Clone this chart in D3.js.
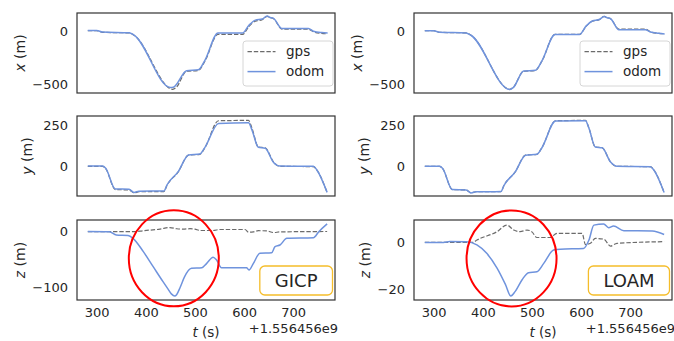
<!DOCTYPE html>
<html>
<head>
<meta charset="utf-8">
<script src="https://cdn.jsdelivr.net/npm/d3@7"></script>
<style>
  body { margin: 0; background: #fff; }
  svg { display: block; }
  text { font-family: "DejaVu Sans", sans-serif; fill: #262626; }
</style>
</head>
<body>
<svg id="chart" width="674" height="341"></svg>
<script>
// time axis (offset +1.556456e9)
const timeTicks = [300, 400, 500, 600, 700];

// gps reference, shared by both methods
const gpsX = [[282,5],[300,5],[312,-10],[366,-16],[376,-38],[455,-548],[462,-530],[483,-378],[507,-370],[520,-285],[547,-29],[597,-29],[610,45],[623,95],[637,108],[647,140],[653,128],[660,118],[677,20],[731,20],[741,-5],[758,-20],[770,-25]];
const gpsY = [[282,2],[312,2],[318,-10],[338,-140],[366,-142],[376,-160],[386,-153],[437,-152],[443,-115],[466,-32],[487,70],[510,75],[520,114],[548,280],[609,282],[616,235],[629,120],[643,115],[660,28],[673,2],[741,0],[748,-20],[769,-158]];
const gpsZ = [[282,0],[380,0],[388,1],[429,4.6],[449,7.4],[463,5.3],[476,4.6],[490,5.3],[500,4.5],[510,2.1],[537,2.1],[551,3.9],[602,3.9],[609,-0.9],[619,-0.4],[629,1.7],[646,1.4],[660,-1.6],[673,-0.4],[769,0.3]];

// GICP odometry
const gicpX = [[282,8],[300,8],[312,-8],[366,-14],[376,-36],[450,-530],[456,-528],[483,-373],[507,-363],[520,-277],[547,-16],[597,-16],[610,57],[623,105],[637,115],[647,143],[653,130],[660,121],[677,25],[731,25],[741,0],[758,-13],[770,-16]];
const gicpY = [[282,4],[312,4],[318,-8],[338,-136],[366,-138],[376,-157],[386,-150],[437,-148],[443,-112],[466,-30],[487,71],[510,77],[520,116],[548,264],[609,268],[616,224],[629,118],[643,112],[660,26],[673,4],[741,2],[748,-20],[769,-157]];
const gicpZ = [[282,0.5],[326,0],[340,-6],[364,-7],[374,-12],[395,-36],[415,-63],[435,-90],[445,-103],[452,-112],[459,-116],[463,-113],[470,-100],[479,-81],[493,-66],[514,-65],[524,-57],[537,-46],[544,-51],[554,-65],[605,-65],[610,-69],[619,-57],[632,-39],[656,-38],[663,-27],[673,-24],[687,-12],[741,-11],[752,0],[769,14]];

// LOAM odometry
const loamX = [[282,5],[300,5],[312,-10],[366,-16],[376,-38],[455,-550],[462,-532],[483,-376],[507,-368],[520,-283],[547,-30],[597,-30],[610,48],[623,97],[637,110],[647,138],[653,127],[660,118],[677,14],[731,14],[741,-8],[758,-20],[770,-26]];
const loamY = [[282,2],[312,2],[318,-10],[338,-140],[366,-142],[376,-160],[386,-153],[437,-152],[443,-115],[466,-32],[487,70],[510,75],[520,114],[548,278],[609,280],[616,234],[629,120],[643,115],[660,28],[673,2],[741,0],[748,-20],[769,-158]];
const loamZ = [[282,0],[320,0],[333,0.4],[367,0.3],[388,-1.1],[408,-4.7],[429,-11],[446,-18],[457,-23],[466,-21],[480,-16],[493,-13],[510,-12.6],[524,-9],[544,-3.3],[558,-2.9],[605,-2.6],[616,1],[626,7.4],[646,7.9],[656,6.3],[666,7],[687,5],[745,4.9],[769,3.4]];

const methods = ["GICP", "LOAM"];
const axisNames = ["x", "y", "z"];
const yTicks = { x: [0, -500], y: [0, 250], zGICP: [0, -100], zLOAM: [0, -20] };
const yLimits = { x: [-583, 172], y: [-179, 309], zGICP: [-123, 21], zLOAM: [-24.7, 9.6] };
const circleAt = { GICP: [457, -48], LOAM: [458.5, -6.9] };

const odomColor = "#6f93dd";
const gpsColor = "#6b6b6b";

const svg = d3.select("#chart");
const colLeft = [77, 414];
const rowTop = [13, 116, 220];
const pw = 258, ph = 80;
const labelX = [[20, 27.5, 20], [357, 364.5, 365]];

const series = {
  GICP: { x: gicpX, y: gicpY, z: gicpZ },
  LOAM: { x: loamX, y: loamY, z: loamZ },
};
const gps = { x: gpsX, y: gpsY, z: gpsZ };

methods.forEach((m, ci) => {
  const x0 = colLeft[ci];
  const x = d3.scaleLinear().domain([260, 785]).range([x0, x0 + pw]);

  axisNames.forEach((a, ri) => {
    const y0 = rowTop[ri];
    const key = a === "z" ? "z" + m : a;
    const y = d3.scaleLinear().domain(yLimits[key]).range([y0 + ph, y0]);
    const clipId = `clip-${m}-${a}`;

    svg.append("clipPath").attr("id", clipId)
      .append("rect").attr("x", x0).attr("y", y0).attr("width", pw).attr("height", ph);

    const line = d3.line()
      .x(d => x(d[0]))
      .y(d => y(d[1]))
      .curve(d3.curveMonotoneX);

    const g = svg.append("g").attr("clip-path", `url(#${clipId})`);
    g.append("path")
      .datum(gps[a])
      .attr("fill", "none")
      .attr("stroke", gpsColor)
      .attr("stroke-width", 1.2)
      .attr("stroke-dasharray", "4.4,1.9")
      .attr("d", line);
    g.append("path")
      .datum(series[m][a])
      .attr("fill", "none")
      .attr("stroke", odomColor)
      .attr("stroke-width", 1.5)
      .attr("d", line);

    svg.append("rect")
      .attr("x", x0).attr("y", y0).attr("width", pw).attr("height", ph)
      .attr("fill", "none").attr("stroke", "#333").attr("stroke-width", 1.2);

    const ya = svg.append("g")
      .attr("transform", `translate(${x0},0)`)
      .call(d3.axisLeft(y).tickValues(yTicks[key]).tickSize(0).tickPadding(9));
    ya.select(".domain").remove();
    ya.selectAll("text").attr("font-size", 13).attr("font-family", "DejaVu Sans").attr("fill", "#262626");

    const lbl = svg.append("text")
      .attr("transform", `translate(${labelX[ci][ri]},${y0 + ph / 2}) rotate(-90)`)
      .attr("text-anchor", "middle")
      .attr("dy", "0.35em")
      .attr("font-size", 14);
    lbl.append("tspan").attr("font-style", "italic").text(a);
    lbl.append("tspan").text(" (m)");

    if (a === "x") {
      const lg = svg.append("g").attr("transform", `translate(${x0 + pw - 92},${y0 + 28})`);
      lg.append("rect").attr("width", 90).attr("height", 45).attr("rx", 3)
        .attr("fill", "#fff").attr("fill-opacity", 0.8).attr("stroke", "#d6d6d6");
      [["gps", gpsColor, "4.4,1.9", 1.2], ["odom", odomColor, null, 1.5]].forEach((it, i) => {
        const ly = 10.6 + i * 20;
        const l = lg.append("line").attr("x1", 4.5).attr("x2", 32.5).attr("y1", ly).attr("y2", ly)
          .attr("stroke", it[1]).attr("stroke-width", it[3]);
        if (it[2]) l.attr("stroke-dasharray", it[2]);
        lg.append("text").attr("x", 43).attr("y", ly).attr("dy", "0.35em")
          .attr("font-size", 13.5).text(it[0]);
      });
    }

    if (a === "z") {
      const xa = svg.append("g")
        .attr("transform", `translate(0,${y0 + ph})`)
        .call(d3.axisBottom(x).tickValues(timeTicks).tickSize(0).tickPadding(8));
      xa.select(".domain").remove();
      xa.selectAll("text").attr("font-size", 13).attr("font-family", "DejaVu Sans").attr("fill", "#262626");

      const tl = svg.append("text")
        .attr("x", x0 + pw / 2).attr("y", 336.5)
        .attr("text-anchor", "middle").attr("font-size", 13.5);
      tl.append("tspan").attr("font-style", "italic").text("t");
      tl.append("tspan").text(" (s)");

      svg.append("text")
        .attr("x", x0 + pw + 3).attr("y", 332.5)
        .attr("text-anchor", "end").attr("font-size", 13)
        .text("+1.556456e9");

      svg.append("ellipse")
        .attr("cx", x(circleAt[m][0])).attr("cy", y(circleAt[m][1]))
        .attr("rx", 45).attr("ry", 48)
        .attr("fill", "none").attr("stroke", "#ff0000").attr("stroke-width", 2);

      const bx = svg.append("g");
      const t = bx.append("text")
        .attr("x", x0 + pw - 3).attr("y", y0 + ph - 19.5)
        .attr("dy", "0.35em").attr("text-anchor", "middle")
        .attr("font-size", 18).attr("fill", "#111").text(m);
      const tw = t.node().getComputedTextLength();
      const bw = tw + 30;
      t.attr("x", x0 + pw - 2.5 - bw / 2);
      bx.insert("rect", "text")
        .attr("x", x0 + pw - 2.5 - bw).attr("y", y0 + ph - 34)
        .attr("width", bw).attr("height", 29).attr("rx", 5)
        .attr("fill", "#fff").attr("stroke", "#f5bd2a").attr("stroke-width", 1.3);
    }
  });
});
</script>
</body>
</html>
